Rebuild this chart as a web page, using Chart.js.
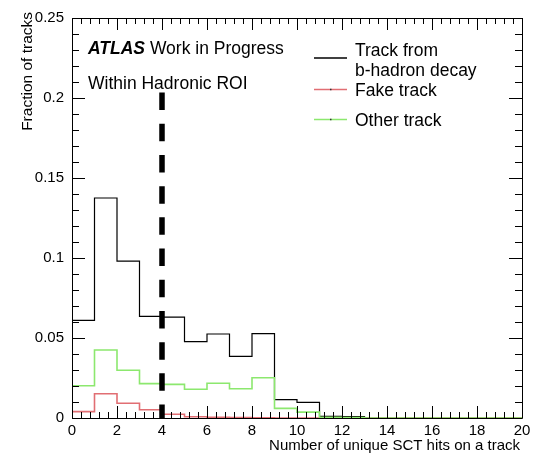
<!DOCTYPE html>
<html>
<head>
<meta charset="utf-8">
<script src="https://cdn.jsdelivr.net/npm/chart.js@4.4.0/dist/chart.umd.min.js"></script>
<style>
  html,body{margin:0;padding:0;background:#fff}
  #ChartPlot{width:539px;height:468px}
</style>
</head>
<body>
<div id="ChartPlot">
  <canvas id="plot_canvas" width="539" height="468"></canvas>
</div>
<script>
// bin left edges, one per bin (last edge closes the histogram)
const binEdges = [0,1,2,3,4,5,6,7,8,9,10,11,12,13,14,15,16,17,18,19,20]

// fraction of tracks per bin
const bHadron = [0.061,0.1375,0.098,0.0635,0.063,0.0477,0.0525,0.0385,0.0527,0.0115,0.0098,0.001,0.0008,0,0,0,0,0,0,0]
const fakeTrack = [0.004,0.0152,0.0092,0.0052,0.0023,0.0008,0.0005,0.0003,0.0002,0,0,0,0,0,0,0,0,0,0,0]
const otherTrack = [0.0202,0.0425,0.0298,0.0215,0.021,0.018,0.0217,0.0183,0.0252,0.006,0.0037,0.0005,0.0003,0,0,0,0,0,0,0]

// vertical cut line
const roiCutX = [4, 4]
const roiCutY = [0.2034, 0]

const xTicks = [0,2,4,6,8,10,12,14,16,18,20]
const yTicks = [0,0.05,0.1,0.15,0.2,0.25]
const yTickLabels = ['0','0.05','0.1','0.15','0.2','0.25']

const FONT = "'Liberation Sans', Arial, Helvetica, sans-serif"

const histPoints = (vals) => {
    let d = []
    for (let i = 0; i < vals.length; i++) {
        d.push({x: binEdges[i], y: vals[i]})
    }
    // close last bin at the right edge
    d.push({x: binEdges[vals.length], y: vals[vals.length - 1]})
    return d
}

const histDataset = (vals, color, width, order) => ({
    data: histPoints(vals),
    borderColor: color,
    borderWidth: width,
    stepped: 'before',
    pointRadius: 0,
    fill: false,
    order: order
})

// ROOT style frame, inward ticks on all four sides, and the text boxes
const rootFrame = {
    id: 'rootFrame',
    afterDraw(chart) {
        const ctx = chart.ctx
        const a = chart.chartArea
        const xs = chart.scales.x
        const ys = chart.scales.y
        ctx.save()
        ctx.strokeStyle = '#000'
        ctx.lineWidth = 1
        ctx.beginPath()
        ctx.rect(Math.round(a.left) + 0.5, Math.round(a.top) + 0.5,
            Math.round(a.right - a.left), Math.round(a.bottom - a.top))
        ctx.stroke()

        ctx.beginPath()
        // x: major every 2, minor every 0.4
        for (let k = 0; k <= 50; k++) {
            const px = Math.round(xs.getPixelForValue(k * 0.4)) + 0.5
            const len = (k % 5 === 0) ? 12 : 6
            ctx.moveTo(px, a.bottom); ctx.lineTo(px, a.bottom - len)
            ctx.moveTo(px, a.top); ctx.lineTo(px, a.top + len)
        }
        // y: major every 0.05, minor every 0.01
        for (let k = 0; k <= 25; k++) {
            const py = Math.round(ys.getPixelForValue(k * 0.01)) + 0.5
            const len = (k % 5 === 0) ? 13 : 7
            ctx.moveTo(a.left, py); ctx.lineTo(a.left + len, py)
            ctx.moveTo(a.right, py); ctx.lineTo(a.right - len, py)
        }
        ctx.stroke()

        ctx.fillStyle = '#000'
        ctx.textBaseline = 'alphabetic'
        ctx.textAlign = 'left'
        ctx.font = "italic bold 17.5px " + FONT
        ctx.fillText('ATLAS', 88, 53.5)
        let w = ctx.measureText('ATLAS').width
        ctx.font = "17.5px " + FONT
        ctx.fillText(' Work in Progress', 88 + w, 53.5)
        ctx.fillText('Within Hadronic ROI', 88, 89)

        // legend
        const legend = [
            {y: 58, color: '#000', dot: false},
            {y: 89.5, color: 'rgb(225,110,115)', dot: true},
            {y: 119.5, color: 'rgb(140,232,110)', dot: true}
        ]
        legend.forEach(l => {
            ctx.strokeStyle = l.color
            ctx.lineWidth = 1.5
            ctx.beginPath()
            ctx.moveTo(314, l.y); ctx.lineTo(347, l.y)
            ctx.stroke()
            if (l.dot) {
                ctx.fillStyle = '#333'
                ctx.fillRect(330, l.y - 0.75, 1.5, 1.5)
            }
        })
        ctx.fillStyle = '#000'
        ctx.fillText('Track from', 355, 55.5)
        ctx.fillText('b-hadron decay', 355, 75.5)
        ctx.fillText('Fake track', 355, 95.5)
        ctx.fillText('Other track', 355, 125.5)

        // axis titles
        ctx.font = "15px " + FONT
        ctx.textAlign = 'right'
        ctx.fillText('Number of unique SCT hits on a track', 520, 450)
        ctx.translate(32, 12)
        ctx.rotate(-Math.PI / 2)
        ctx.font = "15.5px " + FONT
        ctx.fillText('Fraction of tracks', 0, 0)
        ctx.restore()
    }
}

const create_hist_chart = () => {
    const config = {
        type: 'line',
        data: {
            datasets: [
                histDataset(bHadron, '#000', 1.2, 3),
                histDataset(fakeTrack, 'rgb(225,110,115)', 1.6, 2),
                histDataset(otherTrack, 'rgb(140,232,110)', 1.6, 1),
                {
                    data: roiCutX.map((x, i) => ({x: x, y: roiCutY[i]})),
                    borderColor: '#000',
                    borderWidth: 5.5,
                    borderDash: [17.5, 13.7],
                    borderCapStyle: 'butt',
                    pointRadius: 0,
                    fill: false,
                    order: 0
                }
            ]
        },
        options: {
            responsive: false,
            animation: false,
            devicePixelRatio: 1,
            layout: {
                autoPadding: false,
                padding: {left: 0, right: 17, top: 18, bottom: 0}
            },
            scales: {
                x: {
                    type: 'linear',
                    min: 0,
                    max: 20,
                    afterFit: (s) => { s.height = 50 },
                    afterBuildTicks: (s) => { s.ticks = xTicks.map(v => ({value: v})) },
                    grid: {display: false, drawTicks: false},
                    border: {display: false},
                    ticks: {
                        autoSkip: false,
                        maxRotation: 0,
                        padding: 4,
                        color: '#000',
                        font: {family: FONT, size: 15},
                        callback: (v) => String(v)
                    }
                },
                y: {
                    type: 'linear',
                    min: 0,
                    max: 0.25,
                    afterFit: (s) => { s.width = 72 },
                    afterBuildTicks: (s) => { s.ticks = yTicks.map(v => ({value: v})) },
                    grid: {display: false, drawTicks: false},
                    border: {display: false},
                    ticks: {
                        autoSkip: false,
                        padding: 8,
                        color: '#000',
                        font: {family: FONT, size: 15},
                        callback: (v) => yTickLabels[yTicks.indexOf(v)]
                    }
                }
            },
            plugins: {
                legend: {display: false},
                tooltip: {enabled: false}
            }
        },
        plugins: [rootFrame]
    }
    new Chart(document.getElementById('plot_canvas'), config)
}

create_hist_chart()
</script>
</body>
</html>
